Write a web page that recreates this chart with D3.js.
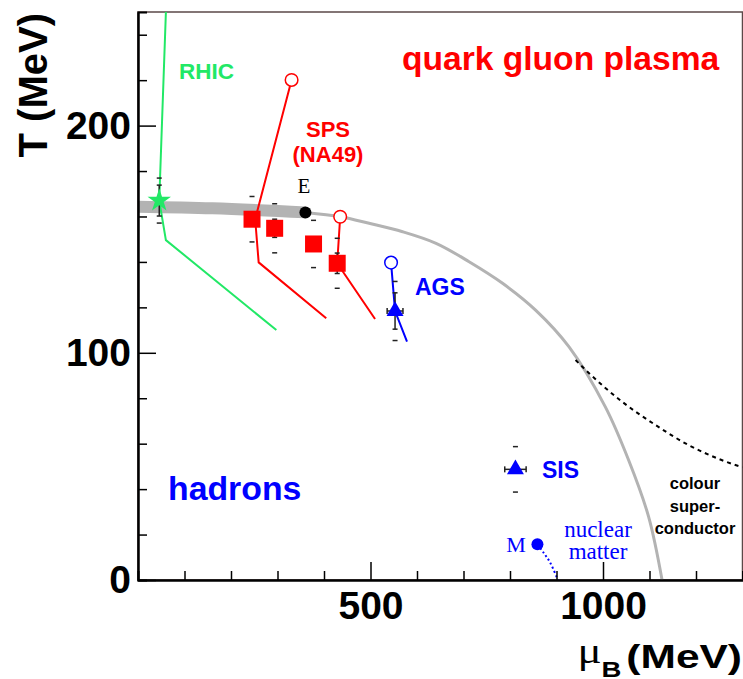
<!DOCTYPE html>
<html>
<head>
<meta charset="utf-8">
<script src="https://cdn.jsdelivr.net/npm/d3@7"></script>
<style>
body { margin: 0; background: #fff; }
svg { display: block; }
</style>
</head>
<body>
<div id="chart"></div>
<script>
// phase diagram: T (MeV) vs mu_B (MeV), each point is [mu_B, T]
var bandPts = [[0, 164.3], [160, 163.6], [360, 161.8]];
var boundaryPts = [[360, 161.8], [435, 159.9], [497, 157], [569, 153.3], [641, 148.2], [712, 140.1],
    [784, 130.6], [855, 118.8], [927, 102.6], [1005, 76.2], [1055, 52.8], [1098, 27.9], [1127, 0]];
var superPts = [[941, 96.8], [970, 91], [1041, 78.5], [1113, 68.2], [1184, 59.4], [1255, 52.8], [1300, 49.6]];
var nuclearPts = [[859, 15.7], [873, 11.8], [887, 7.4], [903, 0]];

// isentropic trajectories
var rhicPath = [[60, 250], [45.7, 167], [60, 149.6], [297.5, 110]];
var spsPath1 = [[330.3, 220.1], [252, 158.8], [259.5, 139.8], [404.8, 115.2]];
var spsPath2 = [[434.8, 159.9], [428.4, 139.4], [509.8, 114.9]];
var agsPath = [[544.2, 139.7], [552.8, 118.4], [578.5, 104.9]];

// freeze-out points
var spsMu = [245.2, 293.9, 377.5, 428.4];
var spsT = [158.8, 154.8, 147.9, 139.4];
var spsSys = [10, 10.8, 10.4, 11];
var spsStat = [3, 4, 3, 4.5];
var rhicPt = {mu: 45.7, T: 167, sys: 9.9, stat: 6.8};
var agsPt = {mu: 552.8, T: 118.4, sys: 13, stat: 8, muErr: 17};
var sisPt = {mu: 811.7, T: 48.7, sys: 10, stat: 0, muErr: 23};
var endPt = [360, 161.8];   // E
var nucPt = [859, 15.7];    // M
var openRed = [[330.3, 220.1], [434.8, 159.9]];
var openBlue = [[544.2, 139.7]];

var yMajor = [0, 100, 200];
var yMinor = [20, 40, 60, 80, 120, 140, 160, 180, 220, 240];
var xMajor = [500, 1000];
var xMinor = [100, 200, 300, 400, 600, 700, 800, 900, 1100, 1200];

var W = 743, H = 679;
var sans = "'Liberation Sans', Arial, sans-serif";
var serif = "'Liberation Serif', 'Times New Roman', serif";
var green = "#22e866", red = "#ff0000", blue = "#0000ff";

var svg = d3.select("#chart").append("svg")
    .attr("width", W)
    .attr("height", H);

var x = d3.scaleLinear().domain([0, 1300]).range([138, 742.5]);
var y = d3.scaleLinear().domain([0, 250]).range([580, 12]);

svg.append("clipPath").attr("id", "plotclip")
    .append("rect")
    .attr("x", x(0)).attr("y", y(250))
    .attr("width", x(1300) - x(0)).attr("height", y(0) - y(250));

// frame
svg.append("rect")
    .attr("x", x(0)).attr("y", y(250))
    .attr("width", x(1300) - x(0)).attr("height", y(0) - y(250))
    .attr("fill", "none")
    .attr("stroke", "#5b4848")
    .attr("stroke-width", 1.5);

var line = d3.line()
    .x(function(d) { return x(d[0]); })
    .y(function(d) { return y(d[1]); });
var smooth = d3.line()
    .x(function(d) { return x(d[0]); })
    .y(function(d) { return y(d[1]); })
    .curve(d3.curveMonotoneX);
var spline = d3.line()
    .x(function(d) { return x(d[0]); })
    .y(function(d) { return y(d[1]); })
    .curve(d3.curveCatmullRom);

var plot = svg.append("g").attr("clip-path", "url(#plotclip)");

// phase boundary
plot.append("path").datum(bandPts)
    .attr("d", smooth)
    .attr("fill", "none").attr("stroke", "#b3b3b3").attr("stroke-width", 12);
plot.append("path").datum(boundaryPts)
    .attr("d", spline)
    .attr("fill", "none").attr("stroke", "#b3b3b3").attr("stroke-width", 3);
plot.append("path").datum(superPts)
    .attr("d", smooth)
    .attr("fill", "none").attr("stroke", "#000").attr("stroke-width", 2)
    .attr("stroke-dasharray", "4,4");
plot.append("path").datum(nuclearPts)
    .attr("d", spline)
    .attr("fill", "none").attr("stroke", blue).attr("stroke-width", 2)
    .attr("stroke-dasharray", "2,2.5");

// trajectories
[[rhicPath, green], [spsPath1, red], [spsPath2, red], [agsPath, blue]].forEach(function(p) {
    plot.append("path").datum(p[0])
        .attr("d", line)
        .attr("fill", "none").attr("stroke", p[1]).attr("stroke-width", 2);
});

// error bars
var errG = svg.append("g").attr("stroke", "#222").attr("stroke-width", 1.5);
function dash(mu, T) {
    errG.append("line")
        .attr("x1", x(mu) - 2.5).attr("x2", x(mu) + 2.5)
        .attr("y1", y(T)).attr("y2", y(T));
}
function errV(mu, T, e) {
    if (!e) return;
    errG.append("line")
        .attr("x1", x(mu)).attr("x2", x(mu))
        .attr("y1", y(T - e)).attr("y2", y(T + e));
    dash(mu, T - e);
    dash(mu, T + e);
}
function errH(mu, T, e) {
    errG.append("line")
        .attr("x1", x(mu - e)).attr("x2", x(mu + e))
        .attr("y1", y(T)).attr("y2", y(T));
    [-e, e].forEach(function(s) {
        errG.append("line")
            .attr("x1", x(mu + s)).attr("x2", x(mu + s))
            .attr("y1", y(T) - 3).attr("y2", y(T) + 3);
    });
}
spsMu.forEach(function(m, i) {
    dash(m, spsT[i] + spsSys[i]);
    dash(m, spsT[i] - spsSys[i]);
    errV(m, spsT[i], spsStat[i]);
});
[rhicPt, agsPt, sisPt].forEach(function(p) {
    dash(p.mu, p.T + p.sys);
    dash(p.mu, p.T - p.sys);
    errV(p.mu, p.T, p.stat);
    if (p.muErr) errH(p.mu, p.T, p.muErr);
});

// markers
svg.selectAll(".sq").data(spsMu).enter().append("path")
    .attr("d", d3.symbol().type(d3.symbolSquare).size(289))
    .attr("transform", function(d, i) { return "translate(" + x(d) + "," + y(spsT[i]) + ")"; })
    .attr("fill", red);
svg.append("path")
    .attr("d", d3.symbol().type(d3.symbolStar).size(170))
    .attr("transform", "translate(" + x(rhicPt.mu) + "," + y(rhicPt.T) + ")")
    .attr("fill", green);
[agsPt, sisPt].forEach(function(p) {
    svg.append("path")
        .attr("d", d3.symbol().type(d3.symbolTriangle).size(125))
        .attr("transform", "translate(" + x(p.mu) + "," + y(p.T) + ")")
        .attr("fill", blue);
});
[[endPt, "#000"], [nucPt, blue]].forEach(function(p) {
    svg.append("circle")
        .attr("cx", x(p[0][0])).attr("cy", y(p[0][1])).attr("r", 6)
        .attr("fill", p[1]);
});
[[openRed, red], [openBlue, blue]].forEach(function(g) {
    svg.selectAll(null).data(g[0]).enter().append("circle")
        .attr("cx", function(d) { return x(d[0]); })
        .attr("cy", function(d) { return y(d[1]); })
        .attr("r", 6.3)
        .attr("fill", "#fff").attr("stroke", g[1]).attr("stroke-width", 1.5);
});

// axes (ticks point inside, ROOT style)
function styleAxis(g) {
    g.select(".domain").attr("stroke", "#000").attr("stroke-width", 2);
    g.selectAll(".tick line").attr("stroke", "#000").attr("stroke-width", 1.5);
    g.selectAll("text").attr("font-family", sans).attr("font-weight", "bold")
        .attr("font-size", 39).attr("fill", "#000");
}
svg.append("g")
    .attr("transform", "translate(" + x(0) + ",0)")
    .call(d3.axisLeft(y).tickValues(yMinor).tickSize(-9).tickFormat(""))
    .call(styleAxis);
svg.append("g")
    .attr("transform", "translate(" + x(0) + ",0)")
    .call(d3.axisLeft(y).tickValues(yMajor).tickSizeInner(-18).tickSizeOuter(0).tickPadding(7).tickFormat(d3.format("d")))
    .call(styleAxis);
svg.append("g")
    .attr("transform", "translate(0," + y(0) + ")")
    .call(d3.axisBottom(x).tickValues(xMinor).tickSize(-9).tickFormat(""))
    .call(styleAxis);
svg.append("g")
    .attr("transform", "translate(0," + y(0) + ")")
    .call(d3.axisBottom(x).tickValues(xMajor).tickSizeInner(-18).tickSizeOuter(0).tickPadding(11).tickFormat(d3.format("d")))
    .call(styleAxis);

// axis titles
svg.append("text")
    .attr("transform", "translate(47,13) rotate(-90)")
    .attr("text-anchor", "end")
    .attr("font-family", sans).attr("font-weight", "bold").attr("font-size", 40)
    .text("T (MeV)");
var xt = svg.append("text")
    .attr("transform", "translate(742,0) scale(1.25,1)")
    .attr("x", 0).attr("y", 663)
    .attr("text-anchor", "end")
    .attr("font-family", sans).attr("font-weight", "bold").attr("font-size", 34);
xt.append("tspan").attr("font-family", serif).attr("font-weight", "normal").attr("font-size", 36).text("μ");
xt.append("tspan").attr("dy", 14).attr("font-size", 22).text("B");
xt.append("tspan").attr("dy", -9).attr("dx", 4).text("(MeV)");

// annotations
function label(txt, px, py, size, color, fam, anchor, weight) {
    svg.append("text")
        .attr("x", px).attr("y", py)
        .attr("text-anchor", anchor || "start")
        .attr("font-family", fam)
        .attr("font-weight", weight || "bold")
        .attr("font-size", size)
        .attr("fill", color)
        .text(txt);
}
label("quark gluon plasma", 402, 70, 33.6, red, sans);
label("RHIC", 179, 79, 22.5, green, sans);
label("SPS", 328, 137, 22, red, sans, "middle");
label("(NA49)", 328, 162, 22, red, sans, "middle");
label("E", 304, 193, 21, "#000", serif, "middle", "normal");
label("AGS", 415, 295, 23, blue, sans);
label("SIS", 542, 478, 23, blue, sans);
label("hadrons", 168, 500, 33.8, blue, sans);
label("M", 516, 552, 22, blue, serif, "middle", "normal");
label("nuclear", 598, 537, 23, blue, serif, "middle", "normal");
label("matter", 598, 559, 23, blue, serif, "middle", "normal");
label("colour", 695, 489, 16.5, "#000", sans, "middle");
label("super-", 695, 512, 16.5, "#000", sans, "middle");
label("conductor", 695, 534, 16.5, "#000", sans, "middle");
</script>
</body>
</html>
